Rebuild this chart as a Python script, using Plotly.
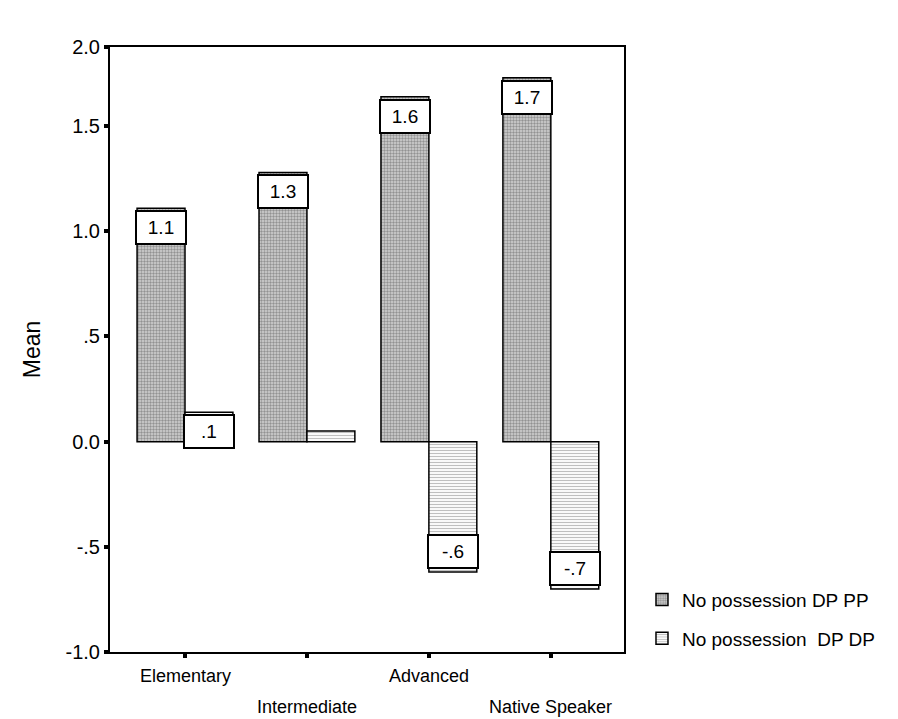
import plotly.graph_objects as go

# Mean scores per proficiency group for the two possession conditions
groups = ["Elementary", "Intermediate", "Advanced", "Native Speaker"]
mean_dp_pp = [1.11, 1.28, 1.64, 1.73]
mean_dp_dp = [0.14, 0.05, -0.62, -0.70]
series_names = ["No possession DP PP", "No possession\u00a0 DP DP"]

# y-axis ticks (top label sits at the upper end of the axis)
y_top = 1.876
y_tickvals = [-1.0, -0.5, 0.0, 0.5, 1.0, 1.5, y_top]
y_ticktext = ["-1.0", "-.5", "0.0", ".5", "1.0", "1.5", "2.0"]

FONT = "Arial, Liberation Sans, sans-serif"
BAR_W = 0.393
x_pos = list(range(len(groups)))


def fmt(v):
    s = f"{v:.1f}"
    return s.replace("0.", ".", 1) if s.startswith(("0.", "-0.")) else s


fig = go.Figure()

fig.add_trace(go.Bar(
    x=x_pos, y=mean_dp_pp, name=series_names[0],
    width=BAR_W, offset=-BAR_W,
    marker=dict(color="#cfcfcf", line=dict(color="black", width=1.5),
                pattern=dict(shape=".", fgcolor="#505050", bgcolor="#d4d4d4",
                             size=3, solidity=0.5)),
    legendgroup="a",
))
fig.add_trace(go.Bar(
    x=x_pos, y=mean_dp_dp, name=series_names[1],
    width=BAR_W, offset=0,
    marker=dict(color="white", line=dict(color="black", width=1.5),
                pattern=dict(shape="-", fgcolor="#808080", bgcolor="white",
                             size=3, solidity=0.4)),
    legendgroup="b",
))

# value labels in boxed annotations at the end of each bar
annotations = []
for series, off in ((mean_dp_pp, -BAR_W), (mean_dp_dp, 0.0)):
    for i, v in enumerate(series):
        if abs(v) < 0.1:
            continue
        annotations.append(dict(
            x=i + off + BAR_W / 2, y=v, xref="x", yref="y",
            text=fmt(v), showarrow=False,
            yanchor="top" if v > 0 else "bottom",
            yshift=-2 if v > 0 else 3,
            width=44, height=27, borderpad=2, borderwidth=2,
            bordercolor="black", bgcolor="white",
            font=dict(family=FONT, size=19, color="black"),
        ))

# staggered category labels below the x-axis
plot_h = 605
for i, g in enumerate(groups):
    dy = 24 if i % 2 == 0 else 55
    annotations.append(dict(
        x=i, y=-dy / plot_h, xref="x", yref="paper",
        text=g, showarrow=False, yanchor="middle", xanchor="center",
        font=dict(family=FONT, size=18, color="black"),
    ))

fig.update_layout(
    width=898, height=719,
    margin=dict(l=110, r=274, t=47, b=67),
    paper_bgcolor="white", plot_bgcolor="white",
    font=dict(family=FONT, size=19, color="black"),
    barmode="overlay",
    showlegend=True,
    legend=dict(x=1.035, y=0.118, xanchor="left", yanchor="top",
                font=dict(family=FONT, size=19, color="black"),
                tracegroupgap=11, bgcolor="rgba(0,0,0,0)"),
    annotations=annotations,
    xaxis=dict(range=[-0.615, 3.6], tickvals=x_pos, ticktext=[""] * 4,
               ticks="outside", ticklen=4, tickwidth=4, tickcolor="black",
               showline=True, linecolor="black", linewidth=2, mirror=True,
               showgrid=False, zeroline=False, fixedrange=True),
    yaxis=dict(range=[-1.0, y_top], tickvals=y_tickvals, ticktext=y_ticktext,
               ticks="outside", ticklen=4, tickwidth=4, tickcolor="black",
               showline=True, linecolor="black", linewidth=2, mirror=True,
               showgrid=False, zeroline=False,
               tickfont=dict(family=FONT, size=20, color="black"),
               title=dict(text="Mean", standoff=18,
                          font=dict(family=FONT, size=23, color="black"))),
)

fig.write_html("out.html")
